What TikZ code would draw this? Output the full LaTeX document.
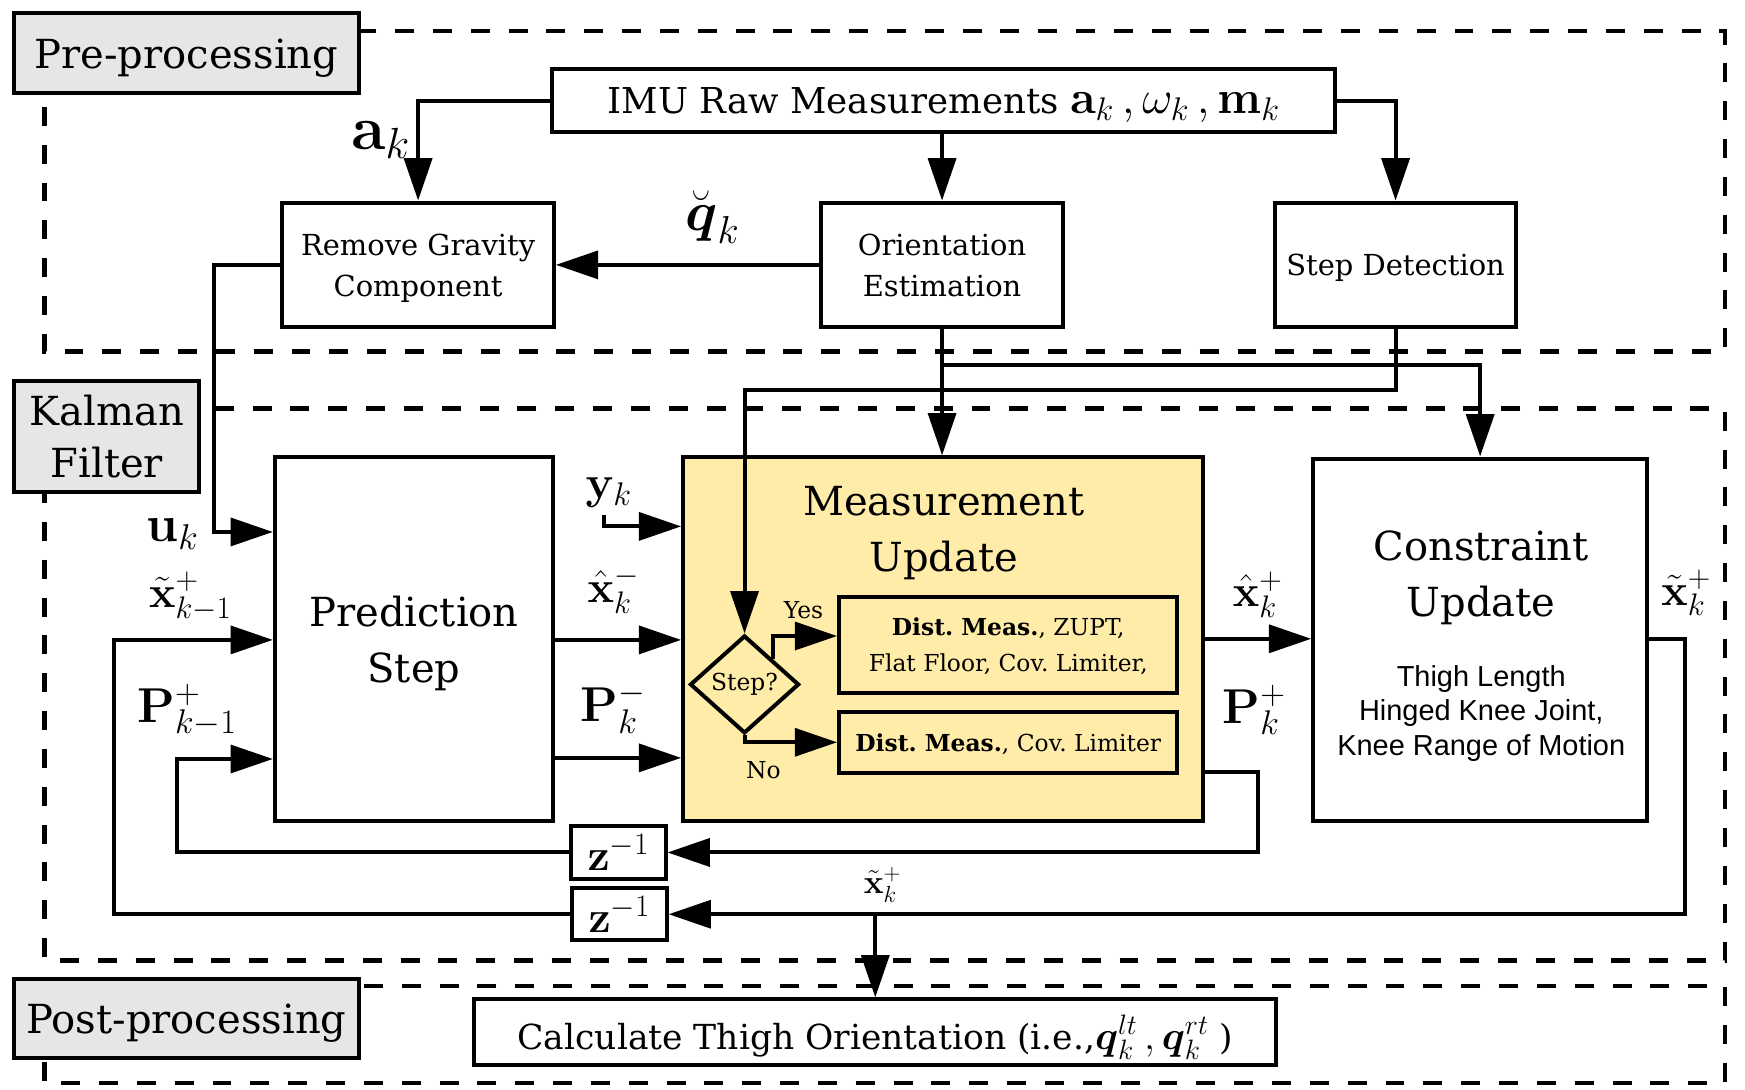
\RequirePackage{fix-cm}
\documentclass[tikz,border=0pt]{standalone}
\usepackage{amsmath}
\usepackage[no-math]{fontspec}
\setmainfont{DejaVu Serif}
\newfontfamily\lsans{Liberation Sans}
\usetikzlibrary{arrows.meta,shapes.geometric}
\newcommand\fsz[2]{\fontsize{#1}{#2}\selectfont}
\definecolor{measyellow}{HTML}{FFECA8}
\definecolor{labgray}{HTML}{E6E6E6}
\frenchspacing
\begin{document}
\begin{tikzpicture}[x=1pt,y=-1pt,line width=3.6pt,
  box/.style={draw, rectangle, inner sep=0pt, align=center, text depth=0pt},
  lab/.style={draw, fill=labgray, rectangle, inner sep=0pt, align=center, text depth=0pt},
  arr/.style={-{Triangle[length=38pt,width=25pt]}},
  region/.style={draw, dash pattern=on 17pt off 17pt, line width=4pt}]
\useasboundingbox (0,0) rectangle (1568,978.6);

% regions
\draw[region] (40,28) rectangle (1550,316);
\draw[region] (40,367) rectangle (1550,863);
\draw[region] (40,886) rectangle (1550,973);

% region labels
\node[lab, minimum width=310pt, minimum height=72pt, font=\fsz{36}{44}] (prelab) at (167.5,48) {Pre-processing};
\node[lab, minimum width=166pt, minimum height=100pt, font=\fsz{36}{47}] (kflab) at (96,392) {Kalman\\Filter};
\node[lab, minimum width=310pt, minimum height=71pt, font=\fsz{36}{44}] (postlab) at (167.5,915.5) {Post-processing};

% pre-processing boxes
\node[box, minimum width=704pt, minimum height=57pt, font=\fsz{32}{40}] (imu) at (848,90.5)
  {IMU Raw Measurements~{\fsz{42}{46}$\mathbf{a}_k\,,\omega_k\,,\mathbf{m}_k$}};
\node[box, minimum width=244pt, minimum height=112pt, font=\fsz{26}{37}] (rg) at (375.7,238) {Remove Gravity\\Component};
\node[box, minimum width=217pt, minimum height=112pt, font=\fsz{26}{37}] (ori) at (846.5,238) {Orientation\\Estimation};
\node[box, minimum width=216pt, minimum height=112pt, font=\fsz{26}{37}] (sd) at (1254,238) {Step Detection};

% Kalman filter boxes
\node[box, minimum width=250pt, minimum height=327pt, font=\fsz{36}{51}] (pred) at (372,574.5) {Prediction\\Step};
\node[box, fill=measyellow, minimum width=467pt, minimum height=327pt] (meas) at (847.4,574.5) {};
\node[font=\fsz{36}{50}, align=center] (meast) at (848,479) {Measurement\\Update};
\node[box, minimum width=300pt, minimum height=326pt] (cu) at (1330,575) {};
\node[font=\fsz{36}{50}, align=center] (cut) at (1331,519) {Constraint\\Update};
\node[font=\lsans\fsz{26}{31}, align=center] (cus) at (1331,641) {Thigh Length\\Hinged Knee Joint,\\Knee Range of Motion};

\node[box, minimum width=304pt, minimum height=86pt, font=\fsz{21}{32}] (b1) at (906,579.5) {\textbf{Dist. Meas.}, ZUPT,\\Flat Floor, Cov. Limiter,};
\node[box, minimum width=304pt, minimum height=55pt, font=\fsz{21}{26}] (b2) at (906,667) {\textbf{Dist. Meas.}, Cov. Limiter};
\node[draw, diamond, minimum width=98pt, minimum height=88pt, inner sep=0pt, font=\fsz{21}{24}] (dia) at (669,615) {Step?};
\node[font=\fsz{21}{24}] (yes) at (722,548) {Yes};
\node[font=\fsz{21}{24}] (no) at (686,692) {No};

\node[box, minimum width=85pt, minimum height=48pt, font=\fsz{40}{44}] (z1) at (555.5,766) {$\mathbf{z}^{-1}$};
\node[box, minimum width=85pt, minimum height=47pt, font=\fsz{40}{44}] (z2) at (556.5,821.5) {$\mathbf{z}^{-1}$};

% post-processing
\node[box, minimum width=721pt, minimum height=59pt, font=\fsz{31}{36}] (calc) at (786.5,927.5)
  {Calculate Thigh Orientation (i.e.,{\fsz{36}{40}$\boldsymbol{q}_k^{lt}\,,\boldsymbol{q}_k^{rt}$}~)};

% math labels
\node[font=\fsz{56}{60}] (lak) at (342,126) {$\mathbf{a}_k$};
\node[font=\fsz{50}{54}] (lq) at (640,195) {$\breve{\boldsymbol{q}}_k$};
\node[font=\fsz{46}{50}] (lu) at (155,480) {$\mathbf{u}_k$};
\node[font=\fsz{40}{44}] (lx1) at (171,536) {$\tilde{\mathbf{x}}_{k-1}^{+}$};
\node[font=\fsz{44}{48}] (lP1) at (168,638) {$\mathbf{P}_{k-1}^{+}$};
\node[font=\fsz{42}{46}] (ly) at (547,443) {$\mathbf{y}_k$};
\node[font=\fsz{40}{44}] (lxm) at (551,530) {$\hat{\mathbf{x}}_k^{-}$};
\node[font=\fsz{44}{48}] (lPm) at (551,636) {$\mathbf{P}_k^{-}$};
\node[font=\fsz{40}{44}] (lxp) at (1130,534) {$\hat{\mathbf{x}}_k^{+}$};
\node[font=\fsz{44}{48}] (lPp) at (1127,638) {$\mathbf{P}_k^{+}$};
\node[font=\fsz{40}{44}] (lxt) at (1515,533) {$\tilde{\mathbf{x}}_k^{+}$};
\node[font=\fsz{30}{34}] (lxb) at (793,795) {$\tilde{\mathbf{x}}_k^{+}$};

% free corner points
\coordinate (ucorner) at (192,478);
\coordinate (yk) at (543,463);
\coordinate (pcorner) at (1130,766);
\coordinate (xcorner) at (1514,821.5);
\coordinate (zpc) at (159,682);
\coordinate (zxc) at (102,575);

% connectors
\draw[arr] (imu.west) -| (rg.north);
\draw[arr] (ori.north |- imu.south) -- (ori.north);
\draw[arr] (imu.east) -| (sd.north);
\draw[arr] (ori.west) -- (rg.east);
\draw[arr] (rg.west) -| (ucorner) -- (ucorner -| pred.west);
\draw[arr] (ori.south) -- (ori.south |- meas.north);
\draw[arr] (ori.south |- 0,328) -| (cu.north);
\draw[arr] (sd.south) |- (dia.north |- 0,350) -- (dia.north);
\draw[arr] (yk) |- (meas.west |- 0,473);
\draw[arr] (pred.east |- 0,575) -- (meas.west |- 0,575);
\draw[arr] (pred.east |- 0,681) -- (meas.west |- 0,681);
\draw[arr] (dia.north east) |- (b1.west |- 0,571.5);
\draw[arr] (dia.south) |- (b2.west);
\draw[arr] (meas.east |- 0,574) -- (cu.west |- 0,574);
\draw[arr] (meas.east |- 0,694) -| (pcorner) -- (z1.east);
\draw[arr] (cu.east |- 0,574) -| (xcorner) -- (z2.east);
\draw[arr] (z1.west) -| (zpc) -- (zpc -| pred.west);
\draw[arr] (z2.west) -| (zxc) -- (zxc -| pred.west);
\draw[arr] (calc.north |- xcorner) -- (calc.north);
\end{tikzpicture}
\end{document}
